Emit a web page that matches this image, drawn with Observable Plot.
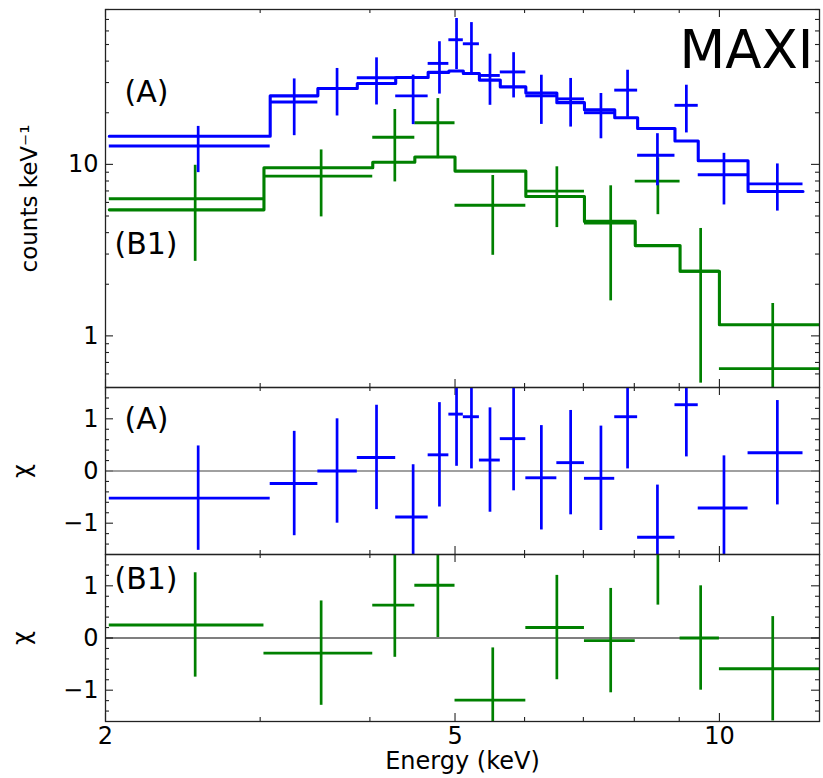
<!DOCTYPE html>
<html><head><meta charset="utf-8">
<script src="https://cdn.jsdelivr.net/npm/d3@7"></script>
<script src="https://cdn.jsdelivr.net/npm/@observablehq/plot@0.6"></script>
<style>
body{margin:0;background:#fff;}
#chart{position:relative;width:823px;height:778px;font-family:"DejaVu Sans";}
#chart svg{position:absolute;left:0;}
</style></head><body><div id="chart"></div>
<script>
// ---- Data: spectrum (A), blue ----
const aLo    = [2.02, 3.08, 3.49, 3.87, 4.28, 4.66, 4.92, 5.11, 5.33, 5.63, 6.02, 6.53, 7.02, 7.60, 8.07, 8.90, 9.46, 10.78];
const aHi    = [3.08, 3.49, 3.87, 4.28, 4.66, 4.92, 5.11, 5.33, 5.63, 6.02, 6.53, 7.02, 7.60, 8.07, 8.90, 9.46, 10.78, 12.45];
const aE     = [2.55, 3.28, 3.67, 4.07, 4.48, 4.80, 5.02, 5.22, 5.48, 5.83, 6.27, 6.77, 7.33, 7.86, 8.50, 9.17, 10.12, 11.64];
const aData  = [12.8, 23.1, 27.7, 32.0, 25.1, 38.8, 53.3, 50.5, 33.0, 34.6, 25.1, 24.1, 20.0, 27.1, 11.3, 22.1, 8.7, 7.7];
const aErr   = [3.85, 8.4, 8.55, 9.8, 8.05, 13.1, 17.6, 16.6, 10.9, 10.2, 8.0, 7.6, 5.9, 8.3, 3.8, 6.85, 2.9, 2.36];
const aModel = [14.6, 25.1, 27.7, 29.6, 32.1, 34.4, 35.0, 33.9, 31.0, 28.3, 26.1, 22.9, 20.8, 18.7, 16.2, 13.7, 10.5, 6.95];
const aResid = [-0.52, -0.24, 0.0, 0.26, -0.88, 0.31, 1.09, 1.04, 0.21, 0.62, -0.13, 0.16, -0.14, 1.04, -1.27, 1.27, -0.71, 0.35];

// ---- Data: spectrum (B1), green ----
const bLo    = [2.02, 3.03, 4.03, 4.50, 5.00, 6.02, 7.02, 8.02, 9.02, 10.0];
const bHi    = [3.03, 4.03, 4.50, 5.00, 6.02, 7.02, 8.02, 9.02, 10.0, 13.0];
const bE     = [2.53, 3.52, 4.27, 4.78, 5.52, 6.53, 7.52, 8.51, 9.52, 11.5];
const bData  = [6.30, 8.54, 14.4, 17.5, 5.78, 6.98, 4.55, 7.99, 2.38, 0.644];
const bErr   = [3.58, 3.6, 6.5, 6.7, 2.83, 2.7, 2.95, 2.9, 1.85, 0.9];
const bModel = [5.43, 9.56, 10.3, 11.04, 9.14, 6.5, 4.65, 3.36, 2.38, 1.16];
const bResid = [0.25, -0.29, 0.63, 1.01, -1.19, 0.2, -0.05, 1.63, 0.0, -0.59];

// ---- Ticks ----
const xMajor = [2, 5, 10];
const xMinor = [3, 4, 6, 7, 8, 9];
const xLabels = ["2", "5", "10"];
const yTopMajor = [1, 10];
const yTopMinor = [0.5, 0.6, 0.7, 0.8, 0.9, 2, 3, 4, 5, 6, 7, 8, 9, 20, 30, 40, 50, 60, 70, 80];
const yTopLabels = ["1", "10"];
const rMajor = [-1, 0, 1];
const rMinor = [-1.4, -1.2, -0.8, -0.6, -0.4, -0.2, 0.2, 0.4, 0.6, 0.8, 1.2, 1.4];
const rLabels = ["\u22121", "0", "1"];

const panelLabels = ["(A)", "(B1)"];
const instrument = "MAXI";
const yTitleTop = "counts keV\u207B\u00B9";
const yTitleRes = "\u03C7";
const xTitle = "Energy (keV)";

// ---- Layout ----
const W = 823, ML = 105, MR = 4;
const innerW = W - ML - MR;
const blue = "#0000ff", green = "#008000", ink = "#222";
const FONT = "DejaVu Sans";

const A = aE.map((e, i) => ({e, lo: aLo[i], hi: aHi[i], v: aData[i], s: aErr[i], m: aModel[i], r: aResid[i]}));
const B = bE.map((e, i) => ({e, lo: bLo[i], hi: bHi[i], v: bData[i], s: bErr[i], m: bModel[i], r: bResid[i]}));
const steps = rows => rows.flatMap(d => [{x: d.lo, y: d.m}, {x: d.hi, y: d.m}]);

function tickMarks(yMaj, yMin, innerH) {
  const L = 8, S = 4, o = {stroke: ink, strokeWidth: 1.1};
  return [
    Plot.tickX(xMajor, {...o, insetTop: innerH - L}),
    Plot.tickX(xMajor, {...o, insetBottom: innerH - L}),
    Plot.tickX(xMinor, {...o, insetTop: innerH - S}),
    Plot.tickX(xMinor, {...o, insetBottom: innerH - S}),
    Plot.tickY(yMaj, {...o, insetRight: innerW - L}),
    Plot.tickY(yMaj, {...o, insetLeft: innerW - L}),
    Plot.tickY(yMin, {...o, insetRight: innerW - S}),
    Plot.tickY(yMin, {...o, insetLeft: innerW - S})
  ];
}
function crosses(rows, color, yv, lo, hi) {
  return [
    Plot.ruleY(rows, {y: yv, x1: "lo", x2: "hi", stroke: color, strokeWidth: 2.9, clip: true}),
    Plot.ruleX(rows, {x: "e", y1: lo, y2: hi, stroke: color, strokeWidth: 2.7, clip: true})
  ];
}
const fmt = (vals, labels) => d => labels[vals.indexOf(d)];

// ---- Panel 1: spectra ----
const h1 = 387, mt1 = 9;
const p1 = Plot.plot({
  width: W, height: h1, marginLeft: ML, marginRight: MR, marginTop: mt1, marginBottom: 0,
  x: {type: "log", domain: [2, 13], axis: null},
  y: {type: "log", domain: [0.5, 80], axis: null},
  style: {fontFamily: FONT, fontSize: "24px", background: "transparent", overflow: "visible"},
  marks: [
    ...tickMarks(yTopMajor, yTopMinor, h1 - mt1),
    Plot.axisY(yTopMajor, {anchor: "left", tickSize: 0, tickPadding: 7, fontSize: 24, label: null, tickFormat: fmt(yTopMajor, yTopLabels), fill: "black"}),
    ...crosses(B, green, "v", d => Math.max(d.v - d.s, 1e-3), d => d.v + d.s),
    Plot.line(steps(B), {x: "x", y: "y", stroke: green, strokeWidth: 3.1, clip: true}),
    ...crosses(A, blue, "v", d => Math.max(d.v - d.s, 1e-3), d => d.v + d.s),
    Plot.line(steps(A), {x: "x", y: "y", stroke: blue, strokeWidth: 3.1, clip: true}),
    Plot.text([panelLabels[0]], {frameAnchor: "top-left", dx: 19, dy: 92, textAnchor: "start", lineAnchor: "bottom", fontSize: 30, fill: "black"}),
    Plot.text([panelLabels[1]], {frameAnchor: "top-left", dx: 9, dy: 244, textAnchor: "start", lineAnchor: "bottom", fontSize: 30, fill: "black"}),
    Plot.text([instrument], {frameAnchor: "top-right", dx: -6, dy: 58, textAnchor: "end", lineAnchor: "bottom", fontSize: 53, fill: "black"}),
    Plot.text([yTitleTop], {frameAnchor: "left", rotate: -90, dx: -76, textAnchor: "middle", lineAnchor: "middle", fontSize: 23, fill: "black"}),
    Plot.frame({stroke: ink, strokeWidth: 1.3})
  ]
});
p1.style.top = "0px";

// ---- Panel 2: residuals (A) ----
const h2 = 167;
const p2 = Plot.plot({
  width: W, height: h2, marginLeft: ML, marginRight: MR, marginTop: 0, marginBottom: 0,
  x: {type: "log", domain: [2, 13], axis: null},
  y: {domain: [-1.6, 1.6], axis: null},
  style: {fontFamily: FONT, fontSize: "24px", background: "transparent", overflow: "visible"},
  marks: [
    ...tickMarks(rMajor, rMinor, h2),
    Plot.axisY(rMajor, {anchor: "left", tickSize: 0, tickPadding: 7, fontSize: 24, label: null, tickFormat: fmt(rMajor, rLabels), fill: "black"}),
    Plot.ruleY([0], {stroke: "#808080", strokeWidth: 1.3}),
    ...crosses(A, blue, "r", d => d.r - 1, d => d.r + 1),
    Plot.text([panelLabels[0]], {frameAnchor: "top-left", dx: 19, dy: 41, textAnchor: "start", lineAnchor: "bottom", fontSize: 30, fill: "black"}),
    Plot.text([yTitleRes], {frameAnchor: "left", rotate: -90, dx: -83, textAnchor: "middle", lineAnchor: "middle", fontSize: 24, fill: "black"}),
    Plot.frame({stroke: ink, strokeWidth: 1.3})
  ]
});
p2.style.top = "387px";

// ---- Panel 3: residuals (B1) ----
const h3 = 224, mb3 = 57;
const p3 = Plot.plot({
  width: W, height: h3, marginLeft: ML, marginRight: MR, marginTop: 0, marginBottom: mb3,
  x: {type: "log", domain: [2, 13], axis: null},
  y: {domain: [-1.6, 1.6], axis: null},
  style: {fontFamily: FONT, fontSize: "24px", background: "transparent", overflow: "visible"},
  marks: [
    ...tickMarks(rMajor, rMinor, h3 - mb3),
    Plot.axisY(rMajor, {anchor: "left", tickSize: 0, tickPadding: 7, fontSize: 24, label: null, tickFormat: fmt(rMajor, rLabels), fill: "black"}),
    Plot.axisX(xMajor, {anchor: "bottom", tickSize: 0, tickPadding: 5, fontSize: 24, label: null, tickFormat: fmt(xMajor, xLabels), fill: "black"}),
    Plot.ruleY([0], {stroke: "black", strokeWidth: 1.1}),
    ...crosses(B, green, "r", d => d.r - 1, d => d.r + 1),
    Plot.text([panelLabels[1]], {frameAnchor: "top-left", dx: 9, dy: 34, textAnchor: "start", lineAnchor: "bottom", fontSize: 30, fill: "black"}),
    Plot.text([yTitleRes], {frameAnchor: "left", rotate: -90, dx: -83, textAnchor: "middle", lineAnchor: "middle", fontSize: 24, fill: "black"}),
    Plot.text([xTitle], {frameAnchor: "bottom", dy: 47, textAnchor: "middle", lineAnchor: "bottom", fontSize: 24, fill: "black"}),
    Plot.frame({stroke: ink, strokeWidth: 1.3})
  ]
});
p3.style.top = "554px";

const chart = document.getElementById("chart");
chart.append(p1, p2, p3);
</script>
</body></html>
